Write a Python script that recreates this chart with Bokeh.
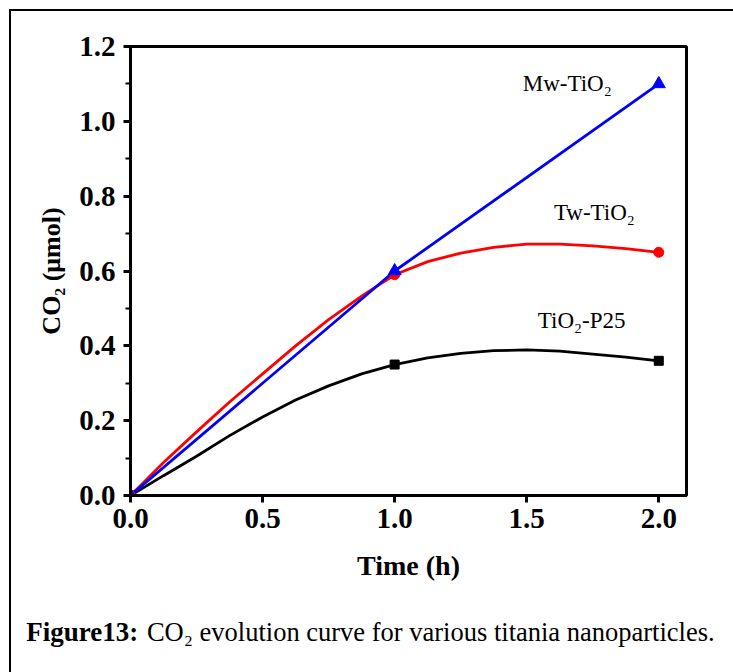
from bokeh.plotting import figure
from bokeh.models import (Range1d, Label, FixedTicker, PrintfTickFormatter,
                          InlineStyleSheet)
from bokeh.embed import file_html
from bokeh.resources import INLINE

# ---- data ----
time_pts = [0.0, 1.0, 2.0]
mw_tio2 = [0.0, 0.60, 1.10]
tw_tio2 = [0.0, 0.59, 0.65]
p25_tio2 = [0.0, 0.35, 0.36]

# smooth curves
curve_t = [0.0, 0.125, 0.25, 0.375, 0.5, 0.625, 0.75, 0.875, 1.0,
           1.125, 1.25, 1.375, 1.5, 1.625, 1.75, 1.875, 2.0]
tw_curve = [0.0, 0.088, 0.17, 0.25, 0.325, 0.40, 0.47, 0.533, 0.59,
            0.625, 0.648, 0.663, 0.672, 0.672, 0.667, 0.66, 0.65]
p25_curve = [0.0, 0.053, 0.105, 0.16, 0.21, 0.255, 0.293, 0.325, 0.35,
             0.368, 0.38, 0.387, 0.389, 0.386, 0.378, 0.37, 0.36]

x_ticks = [0.0, 0.5, 1.0, 1.5, 2.0]
y_ticks = [0.0, 0.2, 0.4, 0.6, 0.8, 1.0, 1.2]
y_minor = [0.1, 0.3, 0.5, 0.7, 0.9, 1.1]

series_names = ["Mw-TiO\u2082", "Tw-TiO\u2082", "TiO\u2082-P25"]
label_x = [1.485, 1.603, 1.542]
label_y = [1.10, 0.756, 0.469]

caption_bold = "Figure13:"
caption_rest = "CO\u2082 evolution curve for various titania nanoparticles."

SERIF = "Liberation Serif"

p = figure(width=733, height=672, output_backend="svg", toolbar_location=None,
           x_range=Range1d(0, 2.105), y_range=Range1d(0, 1.2),
           min_border_left=130, min_border_right=47, min_border_top=46,
           min_border_bottom=177, background_fill_color="white",
           border_fill_color="white")
p.grid.visible = False
p.outline_line_color = "black"
p.outline_line_width = 3

for ax in (p.xaxis[0], p.yaxis[0]):
    ax.axis_line_width = 3
    ax.major_tick_in = 0
    ax.major_tick_out = 7
    ax.major_tick_line_width = 3
    ax.minor_tick_in = 0
    ax.minor_tick_out = 5
    ax.minor_tick_line_width = 2
    ax.major_label_text_font = SERIF
    ax.major_label_text_font_style = "bold"
    ax.major_label_text_font_size = "29px"
    ax.major_label_text_color = "black"
    ax.axis_label_text_font = SERIF
    ax.axis_label_text_font_style = "bold"
    ax.axis_label_text_color = "black"
    ax.formatter = PrintfTickFormatter(format="%.1f")

p.xaxis.ticker = FixedTicker(ticks=x_ticks, minor_ticks=[])
p.yaxis.ticker = FixedTicker(ticks=y_ticks, minor_ticks=y_minor)
p.xaxis.major_label_standoff = 6
p.yaxis.major_label_standoff = 8
p.xaxis.axis_label = "Time (h)"
p.xaxis.axis_label_text_font_size = "28px"
p.xaxis.axis_label_standoff = 19
p.yaxis.axis_label = "CO\u2082 (\u03bcmol)"
p.yaxis.axis_label_text_font_size = "26px"
p.yaxis.axis_label_standoff = 10

# curves
p.line(curve_t, p25_curve, line_color="black", line_width=2.8)
p.line(curve_t, tw_curve, line_color="red", line_width=2.8)
p.line(time_pts, mw_tio2, line_color="blue", line_width=2.8)

p.scatter(time_pts, p25_tio2, marker="square", size=9, color="black")
p.scatter(time_pts, tw_tio2, marker="circle", size=10, color="red")
p.scatter(time_pts, mw_tio2, marker="triangle", size=13, color="blue")

for name, lx, ly in zip(series_names, label_x, label_y):
    p.add_layout(Label(x=lx, y=ly, text=name, text_baseline="middle",
                       text_align="left", text_font=SERIF,
                       text_font_size="23px", text_color="black"))

# caption below the chart (side panel so it is not clipped to the frame)
p.add_layout(Label(x=-0.395, y=-0.364, text=caption_bold, text_font=SERIF,
                   text_font_style="bold", text_font_size="27px",
                   text_color="black", text_baseline="alphabetic"), "below")
p.add_layout(Label(x=0.062, y=-0.364, text=caption_rest, text_font=SERIF,
                   text_font_size="26.5px", text_color="black",
                   text_baseline="alphabetic"), "below")

# outer border (left and top edges visible in the crop)
p.stylesheets = [InlineStyleSheet(css=(
    ":host { position: relative; }"
    ":host::after { content: ''; position: absolute; left: 9px; top: 9px;"
    " width: 2000px; height: 2000px; border-left: 2px solid black;"
    " border-top: 2px solid black; pointer-events: none; box-sizing: border-box; }"
))]

open("out.html", "w").write(file_html(p, INLINE))
